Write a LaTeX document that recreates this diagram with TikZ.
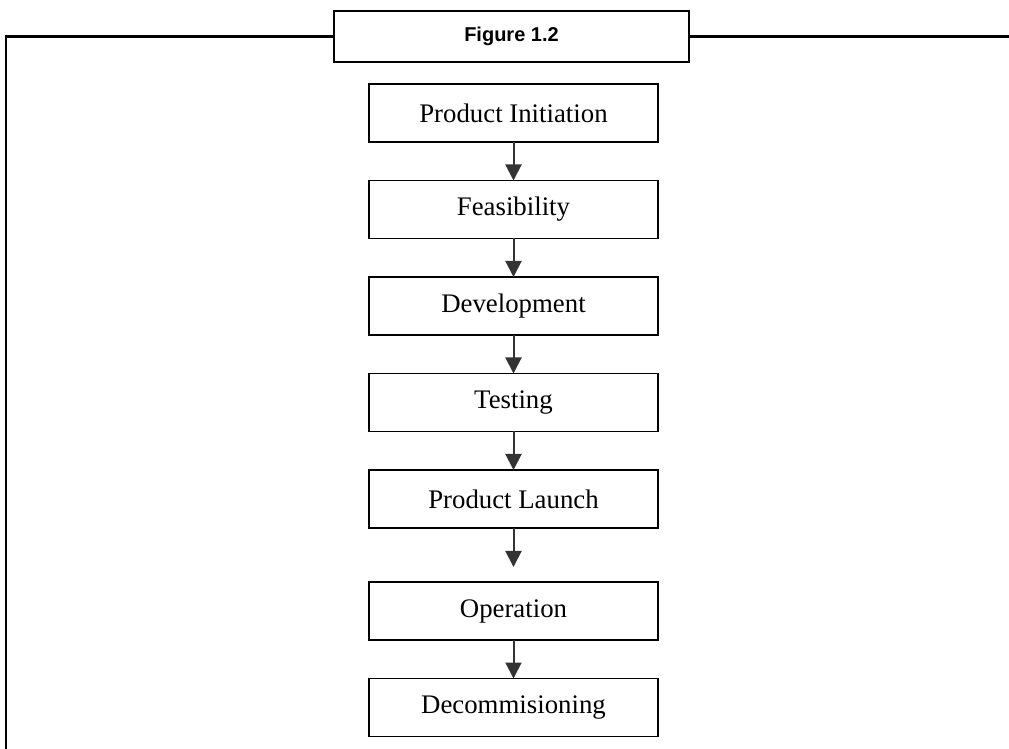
\documentclass[tikz,border=0pt]{standalone}
\usepackage{fontspec}
\setmainfont{Liberation Serif}
\newfontfamily\captionfont{Liberation Sans}
\usetikzlibrary{positioning, arrows.meta}
\tikzset{>={Triangle[width=8pt,length=8pt]}, node distance = 19.25pt}

\begin{document}
\begin{tikzpicture}[x=0.5pt, y=-0.5pt,
stage/.style={rectangle, draw=black, line width=0.8pt, fill=white, minimum width=144.5pt, minimum height=29pt, outer sep=0pt, font=\fontsize{13.4}{16}\selectfont},
figlabel/.style={rectangle, draw=black, line width=1.1pt, fill=white, minimum width=177.5pt, minimum height=25.5pt, outer sep=0pt, font=\captionfont\bfseries\fontsize{10}{12}\selectfont},
frame/.style={draw=black, line width=1.1pt},
flow/.style={->, draw=black!80, line width=1pt}]
    \useasboundingbox (0,0) rectangle (1009,749);

    % frame and caption
    \coordinate (framebottom) at (6,749);
    \coordinate (frameright) at (1009,36.5);
    \node[figlabel] (caption) at (511.5,36.5) {Figure 1.2};
    \draw[frame] (framebottom) |- (caption.west);
    \draw[frame] (caption.east) -- (frameright);

    % stages
    \node[stage] (init) at (513.5,113) {Product Initiation};
    \node[stage, below=of init] (feas) {Feasibility};
    \node[stage, below=of feas] (dev) {Development};
    \node[stage, below=of dev] (test) {Testing};
    \node[stage, below=of test] (launch) {Product Launch};
    \node[stage, below=27pt of launch] (oper) {Operation};
    \node[stage, below=of oper] (decom) {Decommisioning};
    \coordinate[above=7.5pt of oper.north] (operin);

    \foreach \a/\b in {init/feas, feas/dev, dev/test, test/launch, oper/decom}
        \draw[flow] (\a) -- (\b);
    \draw[flow] (launch) -- (operin);
\end{tikzpicture}
\end{document}
